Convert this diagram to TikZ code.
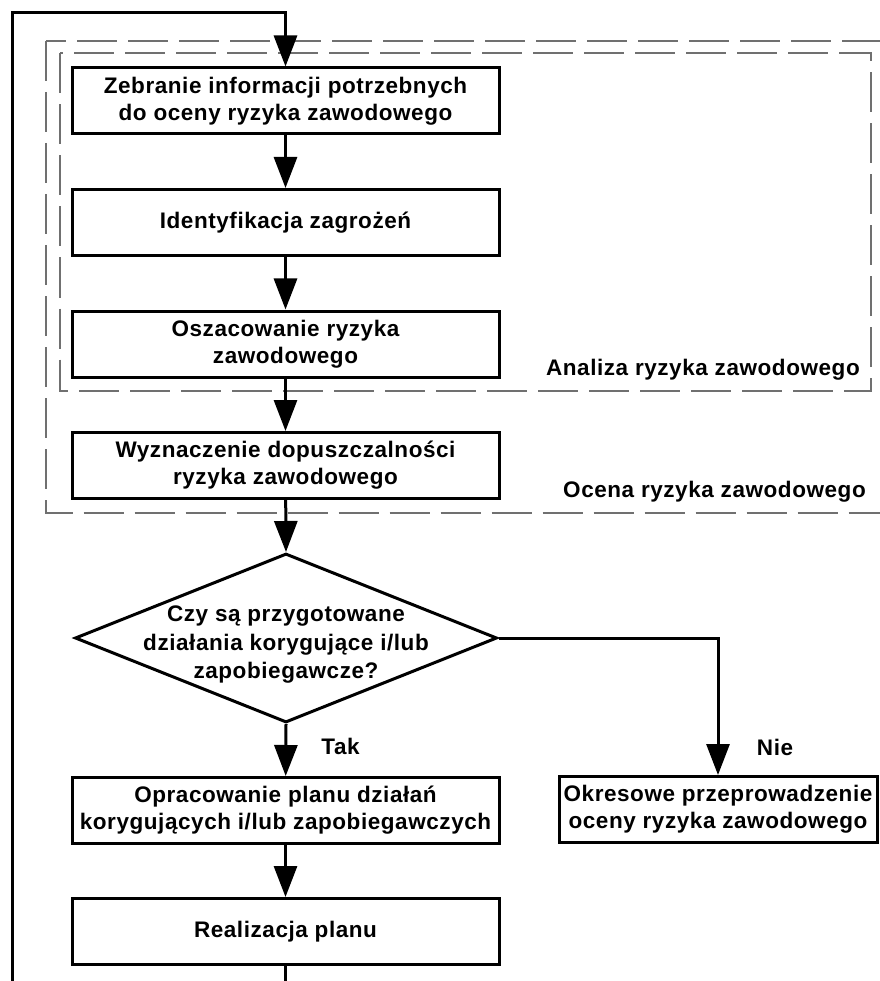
\documentclass[tikz,border=0pt]{standalone}
\usepackage{fontspec}
\setmainfont{Liberation Sans}[LetterSpace=2.5]
\usetikzlibrary{arrows.meta,shapes.geometric}
\definecolor{dashgray}{HTML}{707070}
\tikzset{
  box/.style={draw, line width=3pt, rectangle, inner sep=0pt, minimum width=427pt, minimum height=66pt, align=center, font=\bfseries\fontsize{22.5}{27}\selectfont},
  dia/.style={draw, line width=3pt, diamond, inner sep=0pt, minimum width=422pt, minimum height=169pt},
  txt/.style={inner sep=0pt, align=center, font=\bfseries\fontsize{22.5}{28.5}\selectfont},
  conn/.style={line width=3pt, -{Triangle[length=31pt,width=23pt]}},
  grp/.style={draw=dashgray, line width=2pt, dash pattern=on 40pt off 11pt},
}
\begin{document}
\begin{tikzpicture}[x=1pt,y=-1pt]
\useasboundingbox (0,0) rectangle (879,981);
% group frames
\draw[grp] (45.5,41) rectangle (884,513);
\draw[grp] (59.5,53.5) rectangle (871,391);
\node[txt, anchor=east] (lanal) at (860,370) {Analiza ryzyka zawodowego};
\node[txt, anchor=east] (locena) at (866,492) {Ocena ryzyka zawodowego};
% boxes
\node[box] (b1) at (285.5,101) {Zebranie informacji potrzebnych\\do oceny ryzyka zawodowego};
\node[box] (b2) at (285.5,222.5) {Identyfikacja zagrożeń};
\node[box] (b3) at (285.5,344) {Oszacowanie ryzyka\\zawodowego};
\node[box] (b4) at (285.5,465.5) {Wyznaczenie dopuszczalności\\ryzyka zawodowego};
\node[dia] (d) at (286,638) {};
\node[txt] (dt) at (286,645) {Czy są przygotowane\\działania korygujące i/lub\\zapobiegawcze?};
\node[box] (b5) at (285.5,810.5) {Opracowanie planu działań\\korygujących i/lub zapobiegawczych};
\node[box] (b6) at (285.5,931.5) {Realizacja planu};
\node[box, minimum width=318pt] (b7) at (718,809.5) {Okresowe przeprowadzenie\\oceny ryzyka zawodowego};
\node[txt] (ltak) at (340.5,746) {Tak};
\node[txt] (lnie) at (775,747) {Nie};
% connectors
\coordinate (lb) at (12,1030);
\coordinate (lt) at (12,13);
\draw[conn] (b6.south) |- (lb) -- (lt) -| (b1.north);
\draw[conn] (b1) -- (b2);
\draw[conn] (b2) -- (b3);
\draw[conn] (b3) -- (b4);
\draw[conn] (b4) -- (d.north);
\draw[conn] (d.south) -- (b5);
\draw[conn] (b5) -- (b6);
\draw[conn] (d.east) -| (b7.north);
\end{tikzpicture}
\end{document}
